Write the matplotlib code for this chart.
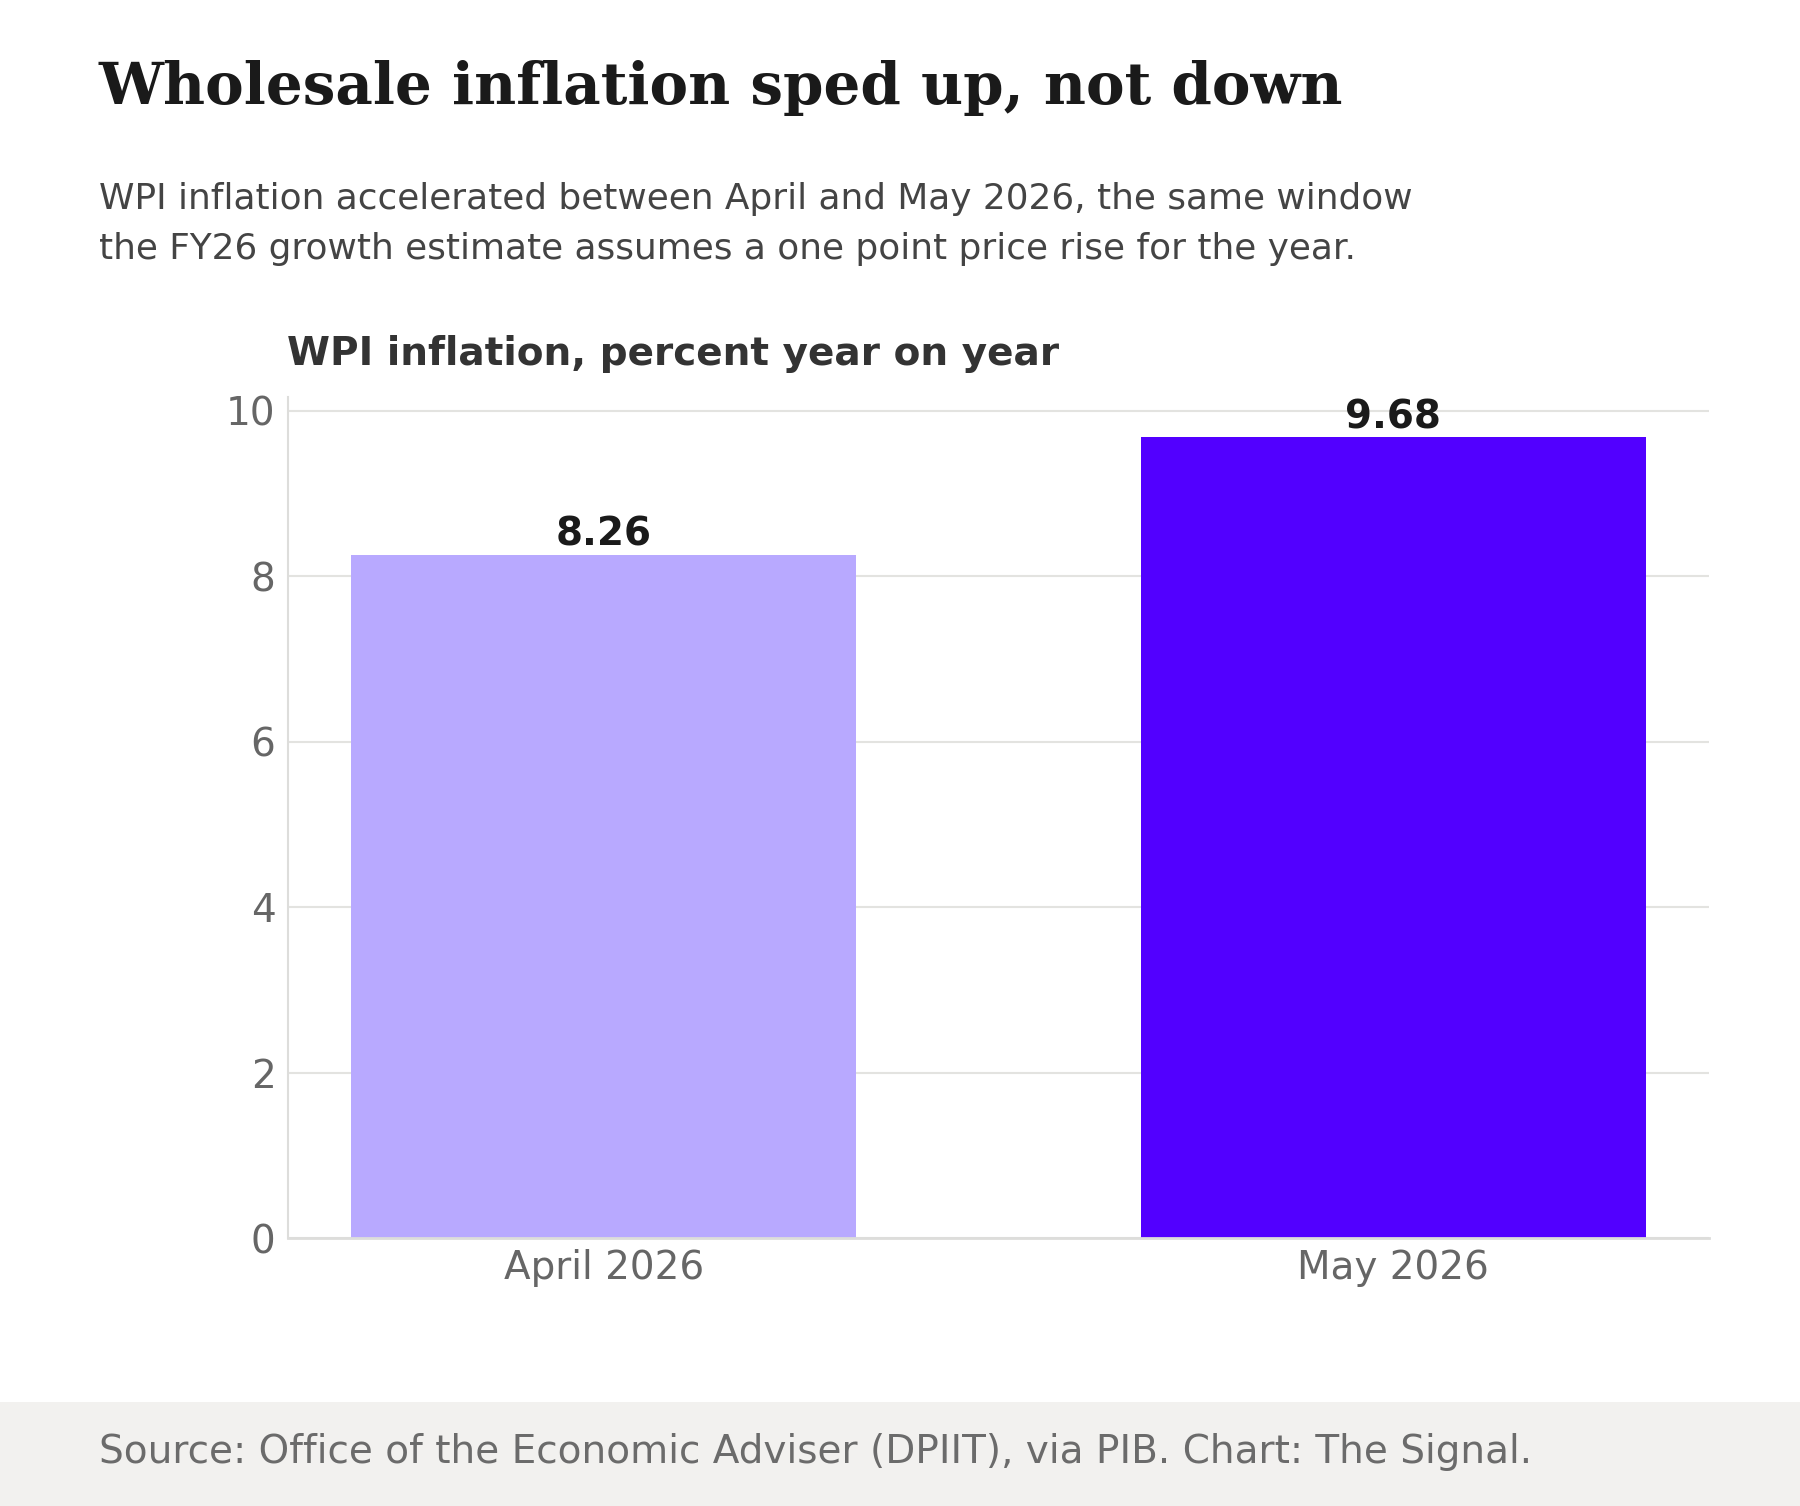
import matplotlib
matplotlib.use("Agg")
import matplotlib.pyplot as plt
from matplotlib.patches import Rectangle

# data
months = ["April 2026", "May 2026"]
wpi_yoy = [8.26, 9.68]
bar_colors = ["#b8a9ff", "#5200ff"]
y_ticks = [0, 2, 4, 6, 8, 10]

W, H = 1800, 1506
fig = plt.figure(figsize=(W / 100, H / 100), dpi=100)
fig.patch.set_facecolor("white")


def fx(px):
    return px / W


def fy(py):
    return 1 - py / H


# footer band
fig.patches.append(Rectangle((0, 0), 1, fy(1402), transform=fig.transFigure,
                             facecolor="#f2f1ef", edgecolor="none", zorder=0))

fig.text(fx(99), fy(104), "Wholesale inflation sped up, not down",
         family="DejaVu Serif", weight="bold", fontsize=41.7, color="#1a1a1a",
         va="baseline")
fig.text(fx(99), fy(209), "WPI inflation accelerated between April and May 2026, the same window",
         fontsize=25.85, color="#444444", va="baseline")
fig.text(fx(99), fy(259), "the FY26 growth estimate assumes a one point price rise for the year.",
         fontsize=25.85, color="#444444", va="baseline")
fig.text(fx(287), fy(365), "WPI inflation, percent year on year",
         fontsize=28.1, weight="bold", color="#333333", va="baseline")
fig.text(fx(99), fy(1463), "Source: Office of the Economic Adviser (DPIIT), via PIB. Chart: The Signal.",
         fontsize=28.1, color="#6b6b6b", va="baseline")

ax = fig.add_axes([fx(288), fy(1238), fx(1709) - fx(288), fy(397) - fy(1238)])
x = list(range(len(months)))
bars = ax.bar(x, wpi_yoy, width=0.64, color=bar_colors, zorder=2)

for xi, v in zip(x, wpi_yoy):
    ax.annotate(f"{v:.2f}", (xi, v), xytext=(0, 6.5), textcoords="offset points",
                ha="center", va="baseline", fontsize=28, weight="bold",
                color="#1a1a1a", zorder=3)

ax.set_xlim(-0.4, 1.4)
ax.set_ylim(0, max(wpi_yoy) * 1.05)
ax.set_xticks(x)
ax.set_xticklabels(months)
ax.set_yticks(y_ticks)
ax.tick_params(axis="both", length=0, labelsize=28, labelcolor="#666666")
ax.tick_params(axis="y", pad=9)
ax.tick_params(axis="x", pad=8)

ax.grid(axis="y", color="#e3e3e0", linewidth=1.5, zorder=0)
ax.set_axisbelow(True)
for s in ["top", "right"]:
    ax.spines[s].set_visible(False)
ax.spines["left"].set_color("#dddddb")
ax.spines["bottom"].set_color("#dddddb")
ax.spines["left"].set_linewidth(1.5)
ax.spines["bottom"].set_linewidth(2)

fig.savefig("out.png", dpi=100)
